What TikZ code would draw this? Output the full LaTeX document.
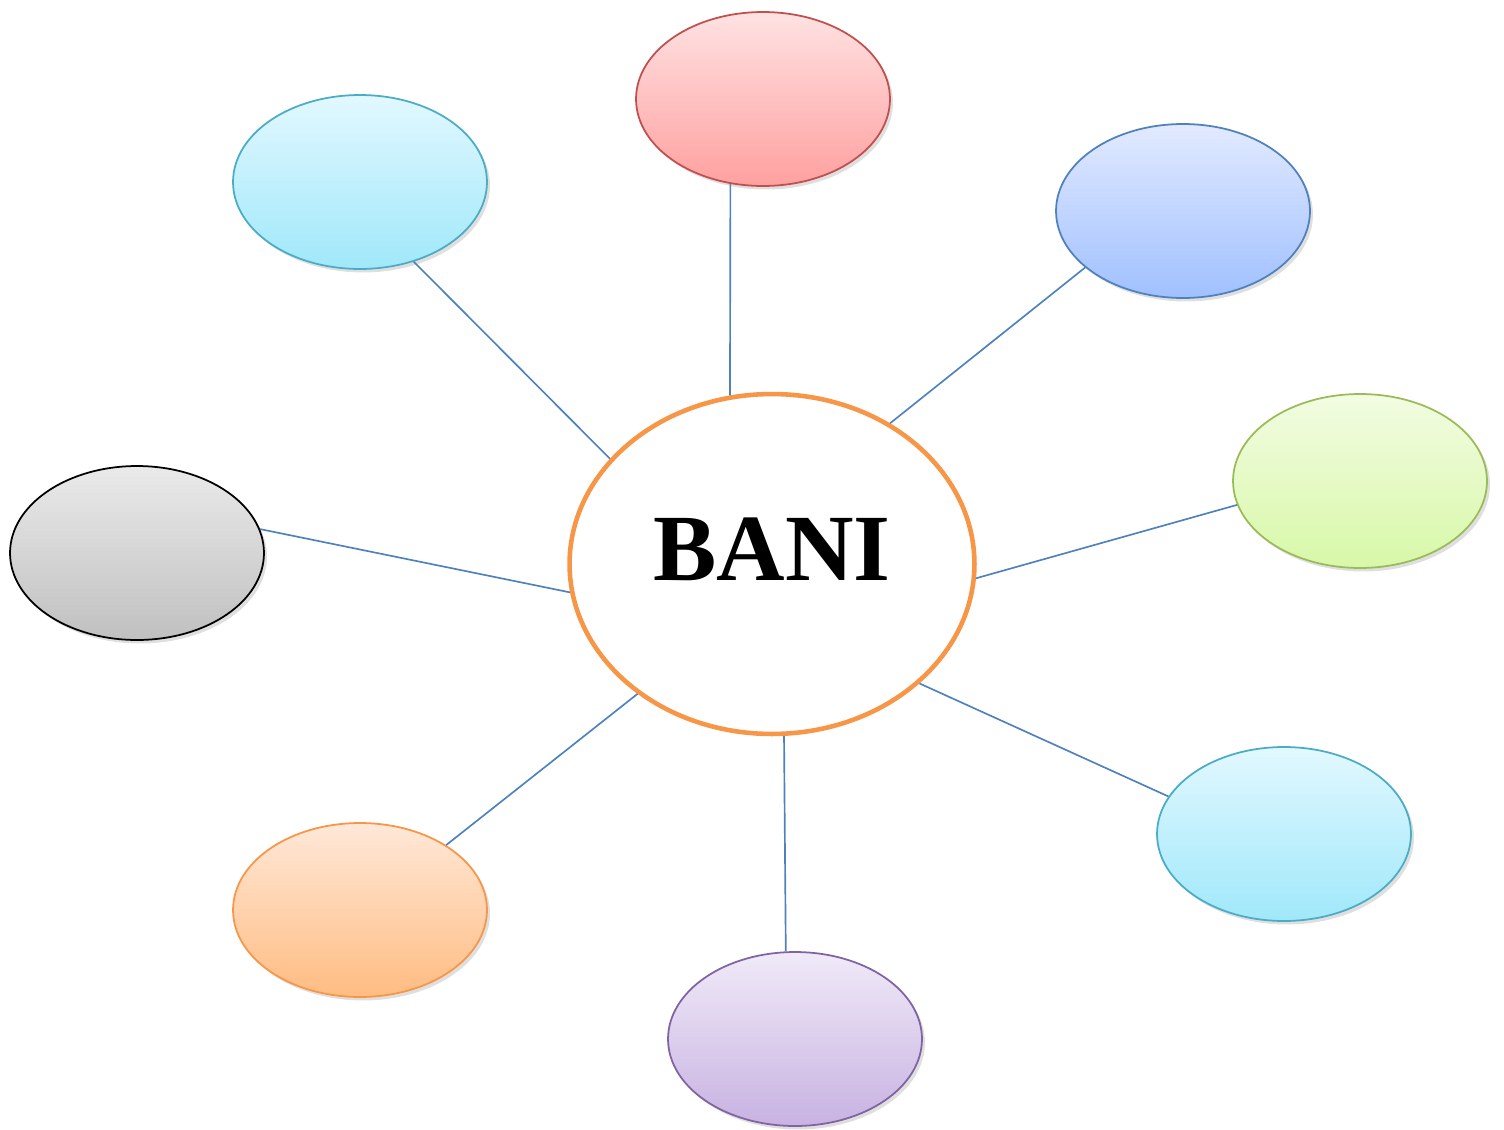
\documentclass[tikz,border=0pt]{standalone}
\usepackage{fontspec}
\setmainfont{Liberation Serif}
\usetikzlibrary{shapes.geometric,shadows}
\definecolor{lnblue}{HTML}{4F81BD}
\definecolor{cborder}{HTML}{F79646}
\tikzset{
  bub/.style={ellipse, inner sep=0pt, minimum width=5.08cm, minimum height=3.48cm,
    line width=1pt, drop shadow={shadow xshift=0.06cm, shadow yshift=-0.07cm, opacity=0.25}},
  conn/.style={draw=lnblue, line width=0.95pt},
}
\begin{document}
\begin{tikzpicture}[x=0.02cm, y=-0.02cm]
\useasboundingbox (0,0) rectangle (1504,1129);
% outer bubbles
\node[bub, draw={rgb,255:red,192;green,80;blue,77}, top color={rgb,255:red,255;green,226;blue,226}, bottom color={rgb,255:red,255;green,160;blue,160}] (red) at (763,99) {};
\node[bub, draw={rgb,255:red,75;green,172;blue,198}, top color={rgb,255:red,226;green,248;blue,255}, bottom color={rgb,255:red,160;green,232;blue,250}] (cyantl) at (360,182) {};
\node[bub, draw={rgb,255:red,79;green,129;blue,189}, top color={rgb,255:red,226;green,234;blue,255}, bottom color={rgb,255:red,160;green,192;blue,255}] (blue) at (1183,211) {};
\node[bub, draw={rgb,255:red,155;green,187;blue,89}, top color={rgb,255:red,242;green,252;blue,226}, bottom color={rgb,255:red,216;green,248;blue,168}] (green) at (1360,481) {};
\node[bub, draw=black, top color={rgb,255:red,234;green,234;blue,234}, bottom color={rgb,255:red,192;green,192;blue,192}] (gray) at (137,553) {};
\node[bub, draw={rgb,255:red,247;green,150;blue,70}, top color={rgb,255:red,255;green,232;blue,216}, bottom color={rgb,255:red,255;green,188;blue,130}] (orange) at (360,910) {};
\node[bub, draw={rgb,255:red,128;green,100;blue,162}, top color={rgb,255:red,240;green,234;blue,248}, bottom color={rgb,255:red,200;green,178;blue,226}] (purple) at (795,1039) {};
\node[bub, draw={rgb,255:red,75;green,172;blue,198}, top color={rgb,255:red,226;green,248;blue,255}, bottom color={rgb,255:red,160;green,232;blue,250}] (cyanbr) at (1284,834) {};
% center
\node[ellipse, draw=cborder, line width=2.6pt, fill=white, minimum width=8.1cm, minimum height=6.8cm, inner sep=0pt] (c) at (772,564) {};
\node[font=\fontsize{54}{58}\selectfont\bfseries, inner sep=0pt, anchor=base] (bani) at (772,580) {BANI};
% connectors
\draw[conn] (c.104.1) -- (red.249.2);
\draw[conn] (c.147.3) -- (cyantl.304.6);
\draw[conn] (c.50.8) -- (blue.210.3);
\draw[conn] (c.356.1) -- (green.191.1);
\draw[conn] (c.188.8) -- (gray.11.2);
\draw[conn] (c.224.4) -- (orange.37.4);
\draw[conn] (c.274.3) -- (purple.96.6);
\draw[conn] (c.321.4) -- (cyanbr.162.7);
\end{tikzpicture}
\end{document}
